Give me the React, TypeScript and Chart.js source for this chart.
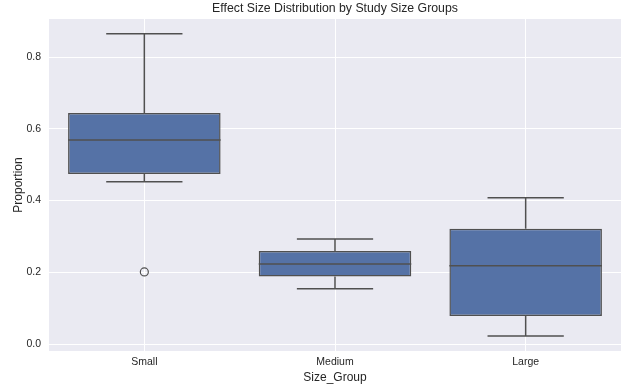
import React, { useEffect, useRef } from 'react';
import { Chart, registerables } from 'chart.js';

Chart.register(...registerables);

const chartTitle = 'Effect Size Distribution by Study Size Groups';
const categories = ['Small', 'Medium', 'Large'];
const whiskerLow = [0.452, 0.154, 0.022];
const q1 = [0.474, 0.188, 0.078];
const median = [0.569, 0.223, 0.218];
const q3 = [0.644, 0.259, 0.321];
const whiskerHigh = [0.865, 0.293, 0.408];
const outlierGroups = ['Small'];
const outlierValues = [0.201];
const yTicks = [0.0, 0.2, 0.4, 0.6, 0.8];

const BOX_FILL = '#5572a6';
const LINE = '#505050';
const BG = '#eaeaf2';
const TEXT = '#262626';
const FONT = 'Liberation Sans, Arial, sans-serif';

const bgPlugin = {
  id: 'bgPlugin',
  beforeDraw(chart: any) {
    const { ctx, chartArea } = chart;
    ctx.save();
    ctx.fillStyle = BG;
    ctx.fillRect(chartArea.left, chartArea.top, chartArea.right - chartArea.left, chartArea.bottom - chartArea.top);
    ctx.restore();
  },
};

const titlePlugin = {
  id: 'titlePlugin',
  afterDraw(chart: any) {
    const { ctx, chartArea } = chart;
    ctx.save();
    ctx.fillStyle = TEXT;
    ctx.font = `12.3px ${FONT}`;
    ctx.textAlign = 'center';
    ctx.textBaseline = 'middle';
    ctx.fillText(chartTitle, (chartArea.left + chartArea.right) / 2, 9);
    ctx.restore();
  },
};

const boxPlugin = {
  id: 'boxPlugin',
  afterDatasetsDraw(chart: any) {
    const { ctx } = chart;
    const xs = chart.scales.x;
    const ys = chart.scales.y;
    const meta = chart.getDatasetMeta(0);
    ctx.save();
    ctx.strokeStyle = LINE;
    ctx.lineWidth = 1.5;
    categories.forEach((_, i) => {
      const x = xs.getPixelForValue(i);
      const el: any = meta.data[i];
      const w = el ? el.width : 150;
      const capHalf = w / 4;
      const yLo = ys.getPixelForValue(whiskerLow[i]);
      const yQ1 = ys.getPixelForValue(q1[i]);
      const yMed = ys.getPixelForValue(median[i]);
      const yQ3 = ys.getPixelForValue(q3[i]);
      const yHi = ys.getPixelForValue(whiskerHigh[i]);
      ctx.beginPath();
      ctx.moveTo(x, yQ3);
      ctx.lineTo(x, yHi);
      ctx.moveTo(x - capHalf, yHi);
      ctx.lineTo(x + capHalf, yHi);
      ctx.moveTo(x, yQ1);
      ctx.lineTo(x, yLo);
      ctx.moveTo(x - capHalf, yLo);
      ctx.lineTo(x + capHalf, yLo);
      ctx.moveTo(x - w / 2, yMed);
      ctx.lineTo(x + w / 2, yMed);
      ctx.stroke();
    });
    ctx.restore();
  },
};

export default function App() {
  const ref = useRef<HTMLCanvasElement | null>(null);

  useEffect(() => {
    document.body.style.margin = '0';
    if (!ref.current) return;
    const outlierData = categories.map((c) => {
      const idx = outlierGroups.indexOf(c);
      return idx >= 0 ? outlierValues[idx] : null;
    });
    const chart = new Chart(ref.current, {
      type: 'bar',
      data: {
        labels: categories,
        datasets: [
          {
            type: 'bar',
            data: categories.map((_, i) => [q1[i], q3[i]]) as any,
            backgroundColor: BOX_FILL,
            borderColor: LINE,
            borderWidth: 1.5,
            borderSkipped: false,
            barPercentage: 0.8,
            categoryPercentage: 1.0,
            order: 2,
          } as any,
          {
            type: 'line',
            data: outlierData as any,
            showLine: false,
            pointRadius: 4,
            pointBorderWidth: 1.2,
            pointBorderColor: LINE,
            pointBackgroundColor: 'rgba(0,0,0,0)',
            order: 1,
          } as any,
        ],
      },
      options: {
        animation: false,
        responsive: false,
        layout: { padding: { left: 0, right: 6, top: 19, bottom: 0 } },
        plugins: {
          legend: { display: false },
          tooltip: { enabled: false },
          title: { display: false },
        },
        scales: {
          x: {
            offset: true,
            grid: { color: '#ffffff', lineWidth: 1, offset: false, drawTicks: false },
            border: { display: false },
            ticks: {
              color: TEXT,
              font: { family: FONT, size: 10.5 },
              padding: 5,
            },
            title: {
              display: true,
              text: 'Size_Group',
              color: TEXT,
              font: { family: FONT, size: 12 },
              padding: { top: 0, bottom: 6 },
            },
            afterFit(scale: any) {
              scale.height = 40;
            },
          },
          y: {
            min: -0.0195,
            max: 0.906,
            grid: { color: '#ffffff', lineWidth: 1, drawTicks: false },
            border: { display: false },
            afterBuildTicks(scale: any) {
              scale.ticks = yTicks.map((v) => ({ value: v }));
            },
            ticks: {
              color: TEXT,
              font: { family: FONT, size: 10.5 },
              padding: 8,
              callback: (v: any) => Number(v).toFixed(1),
            },
            title: {
              display: true,
              text: 'Proportion',
              color: TEXT,
              font: { family: FONT, size: 12 },
              padding: { top: 11, bottom: 0 },
            },
            afterFit(scale: any) {
              scale.width = 49;
            },
          },
        },
      },
      plugins: [bgPlugin, boxPlugin, titlePlugin],
    });
    return () => chart.destroy();
  }, []);

  return (
    <div style={{ width: 627, height: 391 }}>
      <canvas ref={ref} width={627} height={391} style={{ display: 'block' }} />
    </div>
  );
}
